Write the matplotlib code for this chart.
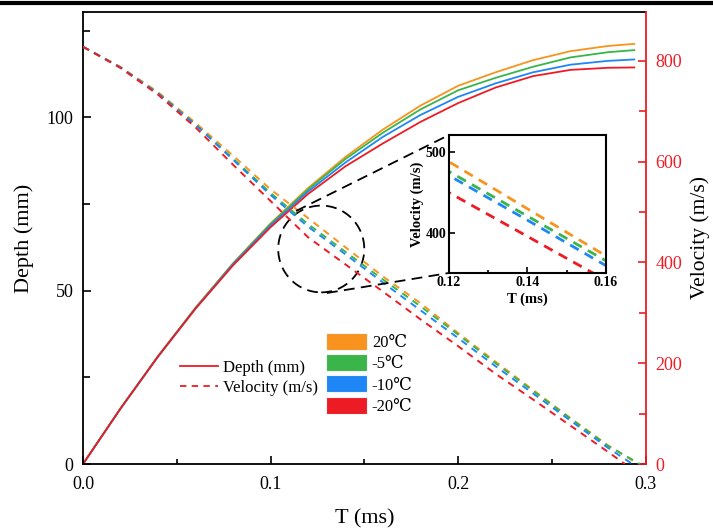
import matplotlib
matplotlib.use('Agg')
import matplotlib.pyplot as plt
from matplotlib.patches import Patch, Ellipse
from matplotlib.lines import Line2D
from matplotlib.ticker import MultipleLocator

plt.rcParams['font.family'] = ['Liberation Serif', 'DejaVu Serif', 'DejaVu Sans']

# time grid (ms), the last point of every curve is added from the stop times
t_grid = [0.00, 0.02, 0.04, 0.06, 0.08, 0.10, 0.12, 0.14,
          0.16, 0.18, 0.20, 0.22, 0.24, 0.26, 0.28]

temps = ['20℃', '-5℃', '-10℃', '-20℃']
colors = ['#F7931E', '#39B54A', '#1E87F5', '#ED1C24']

# velocity (m/s)
vel_20 = [828, 788, 738, 677, 612, 545, 488, 430, 372, 319, 260, 203, 147, 91, 37, 0]
vel_m5 = [828, 787, 736, 674, 606, 538, 476, 421, 366, 313, 257, 200, 145, 90, 36, 0]
vel_m10 = [828, 787, 735, 673, 604, 534, 471, 416, 360, 305, 250, 194, 140, 86, 32, 0]
vel_m20 = [828, 786, 733, 668, 594, 522, 450, 396, 342, 287, 234, 179, 128, 76, 24, 0]
vel_stop = [0.296, 0.297, 0.293, 0.289]

# depth (mm)
dep_20 = [0, 16.0, 31.1, 45.1, 57.9, 69.4, 79.6, 88.6, 96.5, 103.4, 109.1, 113.0, 116.5, 119.1, 120.6, 121.2]
dep_m5 = [0, 16.0, 31.1, 45.0, 57.8, 69.2, 79.2, 88.0, 95.6, 102.3, 107.8, 111.4, 114.6, 117.3, 118.8, 119.4]
dep_m10 = [0, 16.0, 31.0, 44.9, 57.6, 68.8, 78.6, 87.0, 94.4, 100.7, 105.9, 109.8, 113.0, 115.2, 116.3, 116.7]
dep_m20 = [0, 16.0, 31.0, 44.8, 57.3, 68.3, 77.9, 85.9, 92.5, 98.7, 104.1, 108.6, 111.9, 113.7, 114.3, 114.4]
depth_stop = 0.294

velocities = [vel_20, vel_m5, vel_m10, vel_m20]
depths = [dep_20, dep_m5, dep_m10, dep_m20]

red_axis = '#EE1C25'

fig = plt.figure(figsize=(7.13, 5.28), dpi=100)
ax = fig.add_axes([0.1164, 0.1212, 0.789, 0.8561])
ax2 = ax.twinx()

for dep, c in zip(depths, colors):
    ax.plot(t_grid + [depth_stop], dep, color=c, lw=1.3)
for vel, stop, c in zip(velocities, vel_stop, colors):
    ax2.plot(t_grid + [stop], vel, color=c, lw=1.4, linestyle=(0, (3.5, 3)))

ax.set_xlim(0, 0.3)
ax.set_ylim(0, 130.4)
ax2.set_ylim(0, 897)

ax.set_xticks([0.0, 0.1, 0.2, 0.3])
ax.set_xticklabels(['0.0', '0.1', '0.2', '0.3'])
ax.xaxis.set_minor_locator(MultipleLocator(0.05))
ax.set_yticks([0, 50, 100])
ax.yaxis.set_minor_locator(MultipleLocator(25))
ax2.set_yticks([0, 200, 400, 600, 800])
ax2.yaxis.set_minor_locator(MultipleLocator(100))

ax.tick_params(axis='both', which='both', direction='in', labelsize=13, width=1.2)
ax.tick_params(axis='x', which='major', length=6, pad=8.5)
ax.tick_params(axis='x', which='minor', length=3.5)
ax.tick_params(axis='y', which='major', length=6, pad=7)
ax.tick_params(axis='y', which='minor', length=5)
ax.tick_params(top=False, right=False, which='both')
ax2.tick_params(axis='y', which='both', direction='in', colors=red_axis,
                labelsize=13, width=1.2, pad=7)
ax2.tick_params(axis='y', which='major', length=6)
ax2.tick_params(axis='y', which='minor', length=5)

for s in ['left', 'bottom', 'top']:
    ax.spines[s].set_linewidth(1.3)
ax.spines['right'].set_visible(False)
ax2.spines['right'].set_color(red_axis)
ax2.spines['right'].set_linewidth(1.3)
for s in ['left', 'bottom', 'top']:
    ax2.spines[s].set_visible(False)

ax.set_xlabel('T (ms)', fontsize=16, labelpad=12)
ax.set_ylabel('Depth (mm)', fontsize=16, labelpad=9)
ax2.set_ylabel('Velocity (m/s)', fontsize=15.5, labelpad=6)

# zoom marker and connection lines
circ = Ellipse((0.4235, 0.4757), 0.153, 0.192, transform=ax.transAxes,
               fill=False, edgecolor='black', lw=1.3, linestyle=(0, (6, 3.5)))
ax2.add_patch(circ)
fig.add_artist(Line2D([0.4152, 0.6297], [0.6004, 0.7443], color='black', lw=1.3,
                      linestyle=(0, (6, 3.5))))
fig.add_artist(Line2D([0.4586, 0.6297], [0.4451, 0.483], color='black', lw=1.3,
                      linestyle=(0, (6, 3.5))))

# legends
line_handles = [Line2D([], [], color=red_axis, lw=1.3),
                Line2D([], [], color=red_axis, lw=1.3, linestyle=(0, (3.5, 3)))]
leg1 = ax2.legend(line_handles, ['Depth (mm)', 'Velocity (m/s)'], loc='upper left',
                  bbox_to_anchor=(0.2525, 0.318), bbox_transform=fig.transFigure,
                  frameon=False, fontsize=12, handlelength=2.3, handletextpad=0.3,
                  labelspacing=0.25, borderpad=0, borderaxespad=0)
ax2.add_artist(leg1)
patch_handles = [Patch(facecolor=c, edgecolor='#f4f4f4', lw=0.8) for c in colors]
ax2.legend(patch_handles, temps, loc='upper left',
           bbox_to_anchor=(0.4572, 0.3693), bbox_transform=fig.transFigure,
           frameon=False, fontsize=12, handlelength=2.45, handleheight=1.2,
           handletextpad=0.3, labelspacing=0.18, borderpad=0, borderaxespad=0)

# inset
axin = fig.add_axes([0.6297, 0.483, 0.2202, 0.2614])
axin.set_facecolor('white')
for vel, stop, c in zip(velocities, vel_stop, colors):
    axin.plot(t_grid + [stop], vel, color=c, lw=2.0, linestyle=(0, (3.5, 2.5)))
axin.set_xlim(0.12, 0.16)
axin.set_ylim(351, 521)
axin.set_xticks([0.12, 0.14, 0.16])
axin.set_xticklabels(['0.12', '0.14', '0.16'])
axin.xaxis.set_minor_locator(MultipleLocator(0.01))
axin.set_yticks([400, 500])
axin.tick_params(axis='both', which='both', direction='in', labelsize=10, width=1.2, pad=2)
axin.tick_params(which='major', length=4)
axin.tick_params(which='minor', length=2.5)
for lab in axin.get_xticklabels() + axin.get_yticklabels():
    lab.set_fontweight('bold')
for s in axin.spines.values():
    s.set_linewidth(1.5)
axin.set_xlabel('T (ms)', fontsize=10.5, fontweight='bold', labelpad=3)
axin.set_ylabel('Velocity (m/s)', fontsize=10.5, fontweight='bold', labelpad=1)

# rule at the top of the page
fig.add_artist(Line2D([0, 1], [0.995, 0.995], color='black', lw=3))

fig.savefig('out.png', dpi=100)
